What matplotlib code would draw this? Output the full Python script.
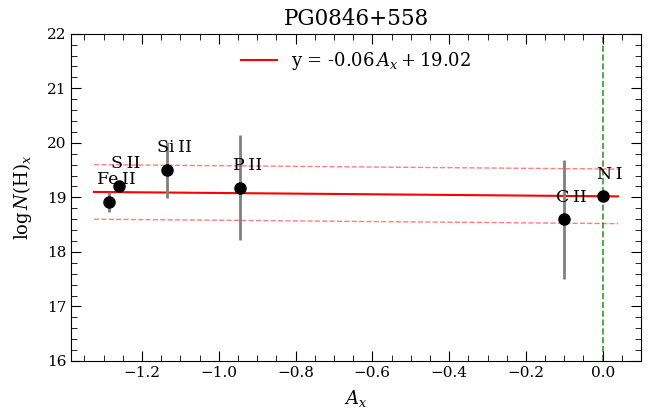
import matplotlib
matplotlib.use("Agg")
import matplotlib.pyplot as plt
import numpy as np

plt.rcParams['font.family'] = ['DejaVu Serif']
plt.rcParams['mathtext.fontset'] = 'dejavuserif'

ions = ["Fe\u2009II", "S\u2009II", "Si\u2009II", "P\u2009II", "C\u2009II", "N\u2009I"]
ax_vals = [-1.285, -1.261, -1.135, -0.944, -0.101, 0.0]
logN = [18.92, 19.21, 19.50, 19.18, 18.60, 19.02]
logN_err = [0.18, 0.08, 0.52, 0.96, 1.09, 0.05]
slope, intercept = -0.06, 19.02
title = "PG0846+558"

fig = plt.figure(figsize=(6.65, 4.11), dpi=100)
ax = fig.add_axes([0.1068, 0.1217, 0.8572, 0.7963])

x = np.array(ax_vals)
y = np.array(logN)
xf = np.array([x.min() - 0.04, x.max() + 0.04])
yf = slope * xf + intercept
ax.plot(xf, yf, color='red', lw=1.5, label=f"y = {slope:.2f}$\\,A_x + {intercept:.2f}$", zorder=2)
ax.plot(xf, yf + 0.5, color='red', lw=1, ls='--', alpha=0.5, zorder=2)
ax.plot(xf, yf - 0.5, color='red', lw=1, ls='--', alpha=0.5, zorder=2)
ax.axvline(0, color='green', ls='--', lw=1.2, alpha=0.8, zorder=1)

ax.errorbar(x, y, yerr=logN_err, fmt='o', color='black', ms=8,
            ecolor='gray', elinewidth=2, capsize=0, zorder=3)
for xi, yi, name in zip(x, y, ions):
    ax.text(xi + 0.019, yi + 0.25, name, ha='center', va='bottom', fontsize=12.5)

ax.set_xlim(x.min() - 0.1, x.max() + 0.1)
ax.set_ylim(16, 22)
ax.set_xticks(np.arange(-1.2, 0.01, 0.2))
ax.set_xticks(np.arange(-1.35, 0.1, 0.05), minor=True)
ax.set_yticks(np.arange(16, 22.1, 1))
ax.set_yticks(np.arange(16, 22.01, 0.2), minor=True)
ax.tick_params(which='both', direction='in', top=True, right=True, labelsize=11)
ax.tick_params(which='major', length=7)
ax.tick_params(which='minor', length=4)
ax.set_xlabel("$A_x$", fontsize=13, labelpad=6)
ax.set_ylabel(r"$\log N(\mathrm{H})_x$", fontsize=13, labelpad=9)
ax.set_title(title, fontsize=15.5)
ax.legend(loc='upper center', frameon=False, fontsize=13)

fig.savefig("out.png", dpi=100)
